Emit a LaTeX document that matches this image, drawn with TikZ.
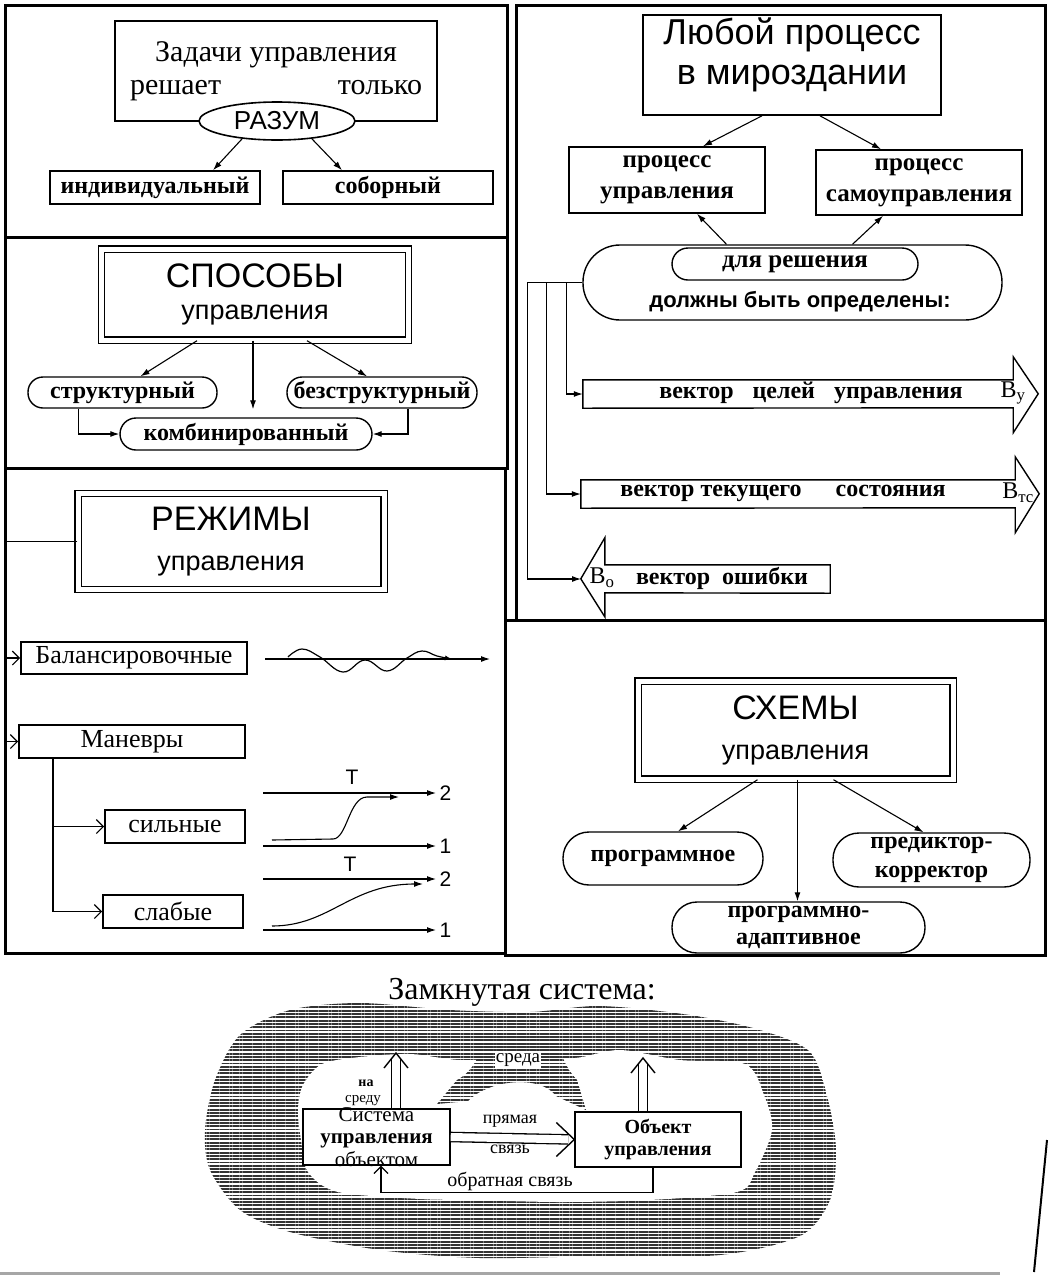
\documentclass[tikz,border=0pt]{standalone}
\usepackage{fontspec}
\setmainfont{Liberation Serif}
\setsansfont{Liberation Sans}
\usepackage{tikz}
\usetikzlibrary{positioning,arrows.meta,shapes.geometric,patterns.meta}
\newcommand{\razm}[2]{\fontsize{#1}{#2}\selectfont}

\begin{document}
\begin{tikzpicture}[x=1pt,y=-1pt]
\tikzstyle{rama} = [line width=3pt]
\tikzstyle{blok} = [draw, line width=1.6pt, inner sep=0pt, align=center]
\tikzstyle{ramka} = [draw, line width=1.4pt, double, double distance=5pt, inner sep=0pt, align=center]
\tikzstyle{kruglo} = [draw, line width=1.4pt, inner sep=0pt, align=center, font=\bfseries\razm{24pt}{29pt}]
\tikzstyle{strel} = [-{Latex[length=9pt,width=6pt]}, line width=1.1pt]
\tikzstyle{otkr} = [-{Straight Barb[length=7pt,width=14pt]}, line width=1.2pt]
\tikzstyle{dvoyn} = [double, double distance=8pt, line width=1.3pt, shorten >=6pt]
\tikzstyle{shev} = [line width=1.4pt]
\tikzstyle{shtrih} = [pattern={Lines[angle=0,distance=3.3pt,line width=1.9pt]}, pattern color=black!80]
\tikzstyle{podp} = [inner sep=0pt, font=\sffamily\razm{21pt}{21pt}]

\useasboundingbox (0,0) rectangle (1051,1278);
\fill[white] (0,0) rectangle (1051,1278);

% ramki
\draw[rama] (5,5) rectangle (507,237);
\draw[rama] (5,237) rectangle (507,468);
\draw[rama] (5,468) rectangle (505,953);
\draw[rama] (516,5) rectangle (1045,620);
\draw[rama] (505,620) rectangle (1045,955);

% razum
\node[blok, minimum width=322pt, minimum height=100pt, font=\razm{30pt}{33pt}] (zad) at (276,71) {\parbox{292pt}{\centering Задачи управления\\ решает\hfill только}};
\node[draw, ellipse, fill=white, line width=1.6pt, inner sep=0pt, minimum width=156pt, minimum height=38pt, font=\sffamily\razm{26pt}{28pt}] (razum) at (277,121) {РАЗУМ};
\node[blok, minimum width=210pt, minimum height=33pt, font=\bfseries\razm{24pt}{26pt}] (ind) at (155,187.5) {индивидуальный};
\node[blok, minimum width=210pt, minimum height=33pt, font=\bfseries\razm{24pt}{26pt}] (sob) at (388,187.5) {соборный};
\draw[strel] (razum.207) -- ([xshift=58pt]ind.north);
\draw[strel] (razum.333) -- ([xshift=-46pt]sob.north);

% sposoby
\node[ramka, minimum width=307pt, minimum height=91pt, font=\sffamily\razm{34pt}{32pt}] (spos) at (255,294.5) {СПОСОБЫ\\{\razm{27pt}{32pt}управления}};
\node[kruglo, rounded corners=15pt, minimum width=189pt, minimum height=31pt] (strukt) at (122.5,392.5) {структурный};
\node[kruglo, rounded corners=15pt, minimum width=190pt, minimum height=31pt] (bezstr) at (382,392.5) {безструктурный};
\node[kruglo, rounded corners=16pt, minimum width=252pt, minimum height=32pt] (komb) at (246,434) {комбинированный};
\draw[strel] ([xshift=-58pt]spos.south) -- ([xshift=18pt]strukt.north);
\draw[strel] ([xshift=52pt]spos.south) -- ([xshift=-15pt]bezstr.north);
\draw[strel, shorten >=8pt] ([xshift=-2pt]spos.south) -- ([xshift=7pt]komb.north);
\draw[strel] ([xshift=-44pt]strukt.south) |- (komb.west);
\draw[strel] ([xshift=26pt]bezstr.south) |- (komb.east);

% rezhimy
\node[ramka, minimum width=306pt, minimum height=96pt, font=\sffamily\razm{34pt}{40pt}] (rezh) at (231,541.5) {РЕЖИМЫ\\{\razm{27pt}{40pt}управления}};
\node[blok, minimum width=226pt, minimum height=32pt, font=\razm{26pt}{28pt}] (bal) at (134,658) {Балансировочные};
\node[blok, minimum width=226pt, minimum height=33pt, font=\razm{26pt}{28pt}] (man) at (132,741.5) {Маневры};
\node[blok, minimum width=140pt, minimum height=33pt, font=\razm{26pt}{28pt}] (siln) at (175,826.5) {сильные};
\node[blok, minimum width=140pt, minimum height=33pt, font=\razm{26pt}{28pt}] (slab) at (173,911.5) {слабые};
\draw[otkr] (rezh.west) -| ([xshift=-12pt]man.west) -- (man.west);
\draw[otkr] ([xshift=-14pt]bal.west) -- (bal.west);
\draw[otkr] ([xshift=-79pt]man.south) |- (siln.west);
\draw[otkr] ([xshift=-79pt]man.south) |- (slab.west);

% grafiki
\draw[strel] (265,659) -- (490,659);
\draw[line width=1.2pt, -{Latex[length=7pt,width=5pt]}] plot[smooth, tension=0.7] coordinates {(288,657) (302,649) (320,657) (343,672) (365,660) (387,671) (407,658) (422,651) (437,656) (452,659)};
\node[podp] (t1) at (352,777) {T};
\draw[strel] (263,793) -- (436,793) node[podp, right=3pt] (s2) {2};
\draw[strel] (263,846) -- (436,846) node[podp, right=3pt] (s1) {1};
\draw[strel] (272,840) -- (333,839) .. controls (347,839) and (349,797) .. (367,797) -- (399,797);
\node[podp] (t2) at (350,864) {T};
\draw[strel] (263,879) -- (436,879) node[podp, right=3pt] (w2) {2};
\draw[strel] (263,930) -- (436,930) node[podp, right=3pt] (w1) {1};
\draw[strel] (272,926) .. controls (330,926) and (350,884) .. (423,884);

% lyuboy process
\node[blok, minimum width=298pt, minimum height=100pt] (lyub) at (792,65) {};
\node[font=\sffamily\razm{36pt}{40pt}, align=center] (lyubt) at (792,55) {Любой процесс\\в мироздании};
\node[blok, minimum width=196pt, minimum height=66pt, font=\bfseries\razm{25pt}{35pt}] (pu) at (667,180) {\raisebox{-4pt}{процесс}\\управления};
\node[blok, minimum width=206pt, minimum height=65pt, font=\bfseries\razm{25pt}{35pt}] (psu) at (919,182.5) {\raisebox{-4pt}{процесс}\\самоуправления};
\draw[strel] ([xshift=-30pt]lyub.south) -- ([xshift=36pt]pu.north);
\draw[strel] ([xshift=28pt]lyub.south) -- ([xshift=-38pt]psu.north);
\node[kruglo, rounded corners=37pt, minimum width=419pt, minimum height=75pt] (opr) at (792.5,282.5) {};
\node[kruglo, rounded corners=16pt, minimum width=246pt, minimum height=32pt, font=\bfseries\razm{25pt}{27pt}] (dlya) at (795,264) {для решения};
\node[font=\sffamily\bfseries\razm{22pt}{24pt}] (oprt) at (800,302) {должны быть определены:};
\draw[strel] ([xshift=-66pt]opr.north) -- ([xshift=30pt]pu.south);
\draw[strel] ([xshift=60pt]opr.north) -- ([xshift=-36pt]psu.south);

% vektory
\node[minimum width=430pt, minimum height=28pt, inner sep=0pt] (v1) at (798,394) {};
\draw[line width=1.4pt] (v1.north west) -- (v1.north east) -- ++(0,-23) -- ++(25,37) -- ++(-25,39) -- ++(0,-25) -- (v1.south west) -- cycle;
\node[font=\bfseries\razm{24pt}{26pt}] (v1t) at (811,393) {вектор\hspace{19pt}целей\hspace{19pt}управления};
\node[font=\razm{24pt}{26pt}] (v1b) at (1013,393) {B\textsubscript{у}};
\node[minimum width=434pt, minimum height=28pt, inner sep=0pt] (v2) at (798,494) {};
\draw[line width=1.4pt] (v2.north west) -- (v2.north east) -- ++(0,-23) -- ++(24,37) -- ++(-24,39) -- ++(0,-25) -- (v2.south west) -- cycle;
\node[font=\bfseries\razm{24pt}{26pt}] (v2t) at (783,493) {вектор текущего\hspace{34pt}состояния};
\node[font=\razm{24pt}{26pt}] (v2b) at (1018,493) {B\textsubscript{тс}};
\node[minimum width=225pt, minimum height=28pt, inner sep=0pt] (v3) at (717.5,579) {};
\draw[line width=1.4pt] (v3.north east) -- (v3.north west) -- ++(0,-27) -- ++(-24,41) -- ++(24,38) -- ++(0,-24) -- (v3.south east) -- cycle;
\node[font=\bfseries\razm{24pt}{26pt}] (v3t) at (722,578) {вектор\hspace{12pt}ошибки};
\node[font=\razm{24pt}{26pt}] (v3b) at (602,578) {B\textsubscript{о}};
\coordinate (v3tip) at (581,579);
\draw[strel] (opr.west) -- ++(-16,0) |- (v1.west);
\draw[strel] (opr.west) -- ++(-36,0) |- (v2.west);
\draw[strel] (opr.west) -- ++(-55,0) |- (v3tip);

% skhemy
\node[ramka, minimum width=315pt, minimum height=98pt, font=\sffamily\razm{34pt}{40pt}] (skh) at (795.5,730) {СХЕМЫ\\{\razm{27pt}{40pt}управления}};
\node[kruglo, rounded corners=26pt, minimum width=200pt, minimum height=53pt] (prog) at (663,858.5) {программное};
\node[kruglo, rounded corners=26pt, minimum width=197pt, minimum height=54pt] (pred) at (931.5,860) {предиктор-\\корректор};
\node[kruglo, rounded corners=25pt, minimum width=253pt, minimum height=51pt, font=\bfseries\razm{24pt}{27pt}] (pad) at (798.5,927.5) {программно-\\адаптивное};
\draw[strel] ([xshift=-38pt]skh.south) -- ([xshift=15pt]prog.north);
\draw[strel] ([xshift=38pt]skh.south) -- ([xshift=-8pt]pred.north);
\draw[strel] ([xshift=2pt]skh.south) -- ([xshift=-1pt]pad.north);

% zamknutaya sistema
\node[font=\razm{32pt}{34pt}] (zam) at (522,992) {Замкнутая система:};
\fill[shtrih] plot[smooth cycle] coordinates {(205,1130) (215,1080) (240,1035) (290,1010) (360,1003) (450,1010) (530,1012) (600,1006) (690,1015) (760,1030) (810,1052) (828,1100) (836,1150) (830,1200) (800,1236) (720,1255) (600,1256) (480,1258) (380,1250) (290,1232) (240,1210) (210,1170)};
\fill[white] plot[smooth cycle] coordinates {(303,1085) (322,1064) (360,1057) (410,1054) (460,1060) (520,1058) (575,1058) (620,1050) (680,1060) (745,1064) (764,1095) (772,1130) (755,1172) (737,1192) (650,1200) (560,1202) (470,1200) (420,1199) (338,1192) (308,1172) (301,1140) (298,1110)};
\fill[shtrih] (483,1035) .. controls (482,1055) and (472,1072) .. (457,1080) -- (437,1104) -- (468,1101) .. controls (488,1080) and (540,1074) .. (556,1096) -- (586,1110) -- (577,1080) .. controls (566,1068) and (558,1052) .. (559,1035) -- cycle;
\node[fill=white, inner sep=1pt, font=\razm{19pt}{21pt}] (sreda) at (518,1060) {среда};

\node[draw, fill=white, line width=1.4pt, minimum width=147pt, minimum height=56pt] (sist) at (376.5,1137) {};
\node[align=center, font=\razm{21pt}{22.5pt}] (sistt) at (376.5,1137) {Система\\\textbf{управления}\\объектом};
\node[draw, fill=white, line width=1.4pt, minimum width=166pt, minimum height=55pt, align=center, font=\bfseries\razm{20pt}{22pt}] (obj) at (658,1139.5) {Объект\\управления};
\draw[dvoyn] (sist.east) -- (obj.west);
\draw[shev] ([xshift=-18pt,yshift=17pt]obj.west) -- (obj.west) -- ([xshift=-18pt,yshift=-17pt]obj.west);
\node[font=\razm{18pt}{20pt}] (pr1) at (510,1121) {прямая};
\node[font=\razm{18pt}{20pt}] (pr2) at (510,1149) {связь};
\coordinate (nasr) at (396,1053);
\coordinate (obup) at (643,1058);
\draw[dvoyn] (sist.north -| nasr) -- (nasr);
\draw[shev] (nasr) ++(-12,15) -- (nasr) -- ++(12,15);
\draw[dvoyn] (obj.north -| obup) -- (obup);
\draw[shev] (obup) ++(-12,15) -- (obup) -- ++(12,15);
\node[font=\bfseries\razm{14pt}{16pt}] (na) at (366,1083) {на};
\node[font=\razm{15pt}{16pt}] (sredu) at (363,1101) {среду};
\draw[otkr] ([xshift=-5pt]obj.south) -- ++(0,25) -| ([xshift=4.5pt]sist.south);
\node[font=\razm{20pt}{22pt}] (obr) at (510,1181) {обратная связь};

% kraya
\draw[line width=2pt] (1047,1140) -- (1034,1272);
\draw[black!35, line width=3pt] (0,1273) -- (1000,1273);
\end{tikzpicture}
\end{document}
